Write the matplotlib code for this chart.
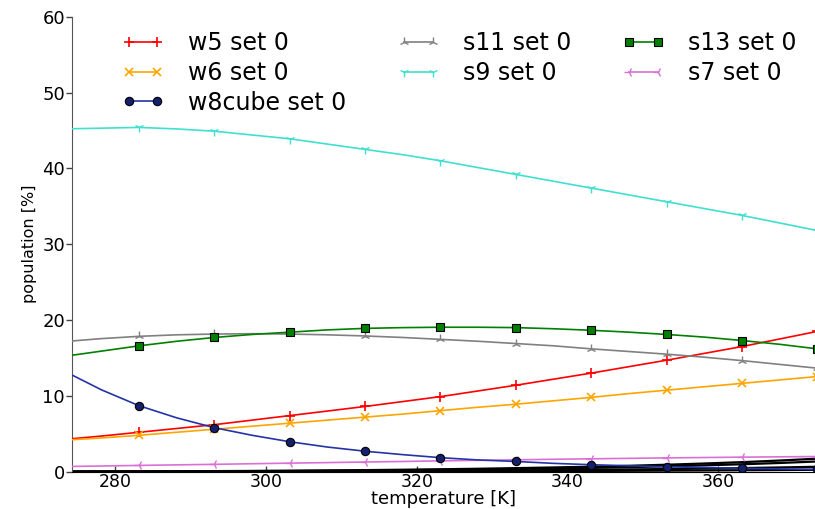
import matplotlib
matplotlib.use("Agg")
import matplotlib.pyplot as plt
import numpy as np

plt.rcParams['font.family'] = ['DejaVu Sans']

# temperature grid (K)
temperature = [273.15, 278.15, 283.15, 288.15, 293.15, 298.15, 303.15, 308.15, 313.15, 318.15,
               323.15, 328.15, 333.15, 338.15, 343.15, 348.15, 353.15, 358.15, 363.15, 368.15, 373.15]

w5 = [4.25, 4.7, 5.2, 5.7, 6.2, 6.8, 7.4, 8.0, 8.6, 9.25, 9.9, 10.65, 11.4, 12.2, 13.0,
      13.85, 14.7, 15.6, 16.5, 17.5, 18.5]
w6 = [4.15, 4.45, 4.8, 5.2, 5.6, 6.0, 6.4, 6.8, 7.2, 7.6, 8.05, 8.5, 8.9, 9.35, 9.8,
      10.3, 10.75, 11.2, 11.65, 12.1, 12.55]
w8cube = [13.3, 10.8, 8.7, 7.1, 5.8, 4.8, 3.95, 3.25, 2.7, 2.25, 1.85, 1.55, 1.35, 1.1, 0.92,
          0.78, 0.65, 0.55, 0.46, 0.37, 0.3]
s11 = [17.15, 17.55, 17.85, 18.05, 18.15, 18.2, 18.15, 18.05, 17.9, 17.7, 17.45, 17.2, 16.9,
       16.6, 16.2, 15.85, 15.5, 15.1, 14.65, 14.15, 13.65]
s9 = [45.2, 45.3, 45.4, 45.2, 44.9, 44.4, 43.9, 43.2, 42.5, 41.8, 41.0, 40.1, 39.2, 38.3,
      37.4, 36.5, 35.6, 34.7, 33.8, 32.8, 31.8]
s13 = [15.2, 15.9, 16.6, 17.2, 17.7, 18.1, 18.4, 18.7, 18.9, 19.0, 19.05, 19.05, 19.0, 18.85,
       18.65, 18.4, 18.1, 17.75, 17.3, 16.8, 16.2]
s7 = [0.68, 0.75, 0.83, 0.9, 0.97, 1.05, 1.13, 1.2, 1.28, 1.35, 1.43, 1.5, 1.57, 1.64, 1.7,
      1.76, 1.82, 1.87, 1.92, 1.96, 2.0]

# unlabeled (black) sets
black_sets = [
    [0.02, 0.03, 0.04, 0.06, 0.08, 0.1, 0.13, 0.17, 0.21, 0.26, 0.32, 0.39, 0.47, 0.56, 0.66,
     0.78, 0.92, 1.08, 1.26, 1.47, 1.72],
    [0.01, 0.02, 0.03, 0.04, 0.06, 0.08, 0.1, 0.13, 0.16, 0.2, 0.25, 0.3, 0.36, 0.43, 0.51,
     0.6, 0.71, 0.84, 0.98, 1.15, 1.35],
    [0.0, 0.01, 0.01, 0.02, 0.03, 0.04, 0.05, 0.06, 0.08, 0.1, 0.12, 0.15, 0.18, 0.21, 0.25,
     0.3, 0.35, 0.41, 0.48, 0.56, 0.65],
    [0.0, 0.0, 0.01, 0.01, 0.01, 0.02, 0.02, 0.03, 0.03, 0.04, 0.05, 0.06, 0.07, 0.08, 0.1,
     0.12, 0.14, 0.16, 0.19, 0.22, 0.25],
]

x_ticks = [280, 300, 320, 340, 360]
y_ticks = [0, 10, 20, 30, 40, 50, 60]

fig = plt.figure(figsize=(8.15, 5.09), dpi=100)
ax = fig.add_axes([72 / 815, 1 - 471.7 / 509, 1 - 72 / 815, (471.7 - 16.7) / 509])

for b in black_sets:
    ax.plot(temperature, b, color='black', lw=1.6, zorder=2)

me = (2, 2)
lw = 1.2
ax.plot(temperature, w5, color='red', marker='+', ms=7, mew=1.2, lw=lw, markevery=me,
        label='w5 set 0', zorder=3)
ax.plot(temperature, w6, color='orange', marker='x', ms=6, mew=1.2, lw=lw, markevery=me,
        label='w6 set 0', zorder=3)
ax.plot(temperature, w8cube, color='#2433a6', marker='o', ms=6, mfc='#141f6e', mec='black',
        mew=0.8, lw=lw, markevery=me, label='w8cube set 0', zorder=4)
ax.plot(temperature, s11, color='gray', marker='2', ms=7, mew=1.0, lw=lw, markevery=me,
        label='s11 set 0', zorder=3)
ax.plot(temperature, s9, color='turquoise', marker='1', ms=7, mew=1.0, lw=lw, markevery=me,
        label='s9 set 0', zorder=3)
ax.plot(temperature, s13, color='green', marker='s', ms=6, mfc='green', mec='black',
        mew=0.8, lw=lw, markevery=me, label='s13 set 0', zorder=3)
ax.plot(temperature, s7, color='orchid', marker='3', ms=7, mew=1.0, lw=lw, markevery=me,
        label='s7 set 0', zorder=3)

ax.set_xlim(274.25, 372.85)
ax.set_ylim(0, 60)
ax.set_xticks(x_ticks)
ax.set_yticks(y_ticks)
ax.tick_params(axis='y', labelsize=13, direction='out', length=4, width=1,
               color='#444444', pad=1)
ax.tick_params(axis='x', labelsize=12.5, direction='in', length=4, width=1,
               color='#444444', pad=1)
ax.spines['top'].set_visible(False)
ax.spines['right'].set_visible(False)
ax.spines['left'].set_color('#555555')
ax.spines['bottom'].set_color('black')
ax.tick_params(top=False, right=False)

ax.set_xlabel('temperature [K]', fontsize=13, labelpad=-0.5)
ax.set_ylabel('population [%]', fontsize=11.5, labelpad=4)

leg = ax.legend(loc='upper left', bbox_to_anchor=(0.045, 1.005), ncol=3, frameon=False,
                fontsize=17, numpoints=2, handlelength=1.8, handletextpad=1.0,
                columnspacing=2.15, labelspacing=0.25, borderaxespad=0.3)

fig.savefig('out.png', dpi=100)
